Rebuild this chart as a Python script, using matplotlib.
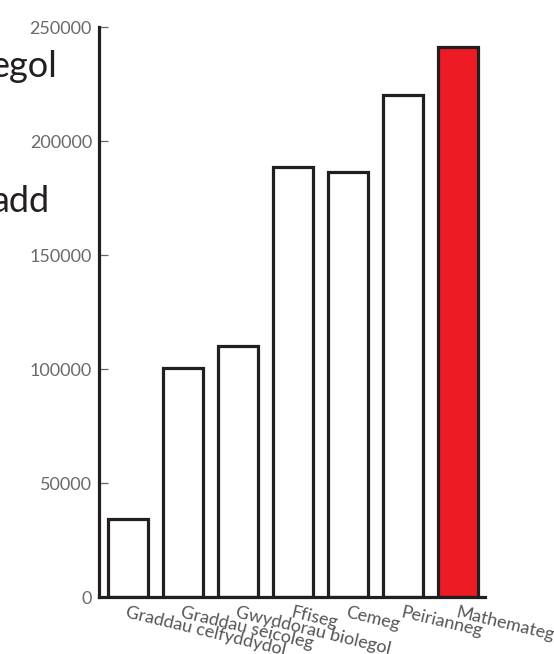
import matplotlib
matplotlib.use("Agg")
import matplotlib.pyplot as plt

categories = ["Graddau celfyddydol", "Graddau seicoleg", "Gwyddorau biolegol",
              "Ffiseg", "Cemeg", "Peirianneg", "Mathemateg"]
values = [34400, 100400, 109900, 188600, 186500, 220300, 241300]
highlight = "Mathemateg"
yticks = [0, 50000, 100000, 150000, 200000, 250000]
side_texts = ["egol", "add"]

plt.rcParams['font.family'] = ['Lato', 'DejaVu Sans']

W, H = 554, 654
fig = plt.figure(figsize=(W / 100, H / 100), dpi=100)
ax = fig.add_axes([99 / W, 1 - 597 / H, (485 - 99) / W, (597 - 27) / H])

dark = "#231f20"
colors = ["#ed1c24" if c == highlight else "white" for c in categories]
x = list(range(len(categories)))
ax.bar(x, values, width=0.73, color=colors, edgecolor=dark, linewidth=2.3, zorder=3)

ax.set_xlim(-0.52, 6.49)
ax.set_ylim(0, 250000)
ax.set_yticks(yticks)
ax.set_yticklabels([str(v) for v in yticks])
ax.tick_params(axis='y', direction='in', length=6.5, width=0.9, color="#666666",
               labelsize=13, labelcolor="#6a6a6a", pad=5)
ax.set_xticks(x)
ax.set_xticklabels(categories)
ax.tick_params(axis='x', length=0, labelsize=13, labelcolor="#555555", pad=5)
for lbl in ax.get_xticklabels():
    lbl.set_rotation(-13.5)
    lbl.set_ha('left')
    lbl.set_va('top')
    lbl.set_rotation_mode('anchor')

for s in ['top', 'right']:
    ax.spines[s].set_visible(False)
for s in ['left', 'bottom']:
    ax.spines[s].set_linewidth(2.3)
    ax.spines[s].set_color(dark)
    ax.spines[s].set_zorder(4)

fig.text(57 / W, 1 - 77 / H, side_texts[0], ha='right', va='baseline',
         fontsize=26, color="#231f20")
fig.text(50 / W, 1 - 212 / H, side_texts[1], ha='right', va='baseline',
         fontsize=26, color="#231f20")

fig.savefig("out.png", dpi=100)
